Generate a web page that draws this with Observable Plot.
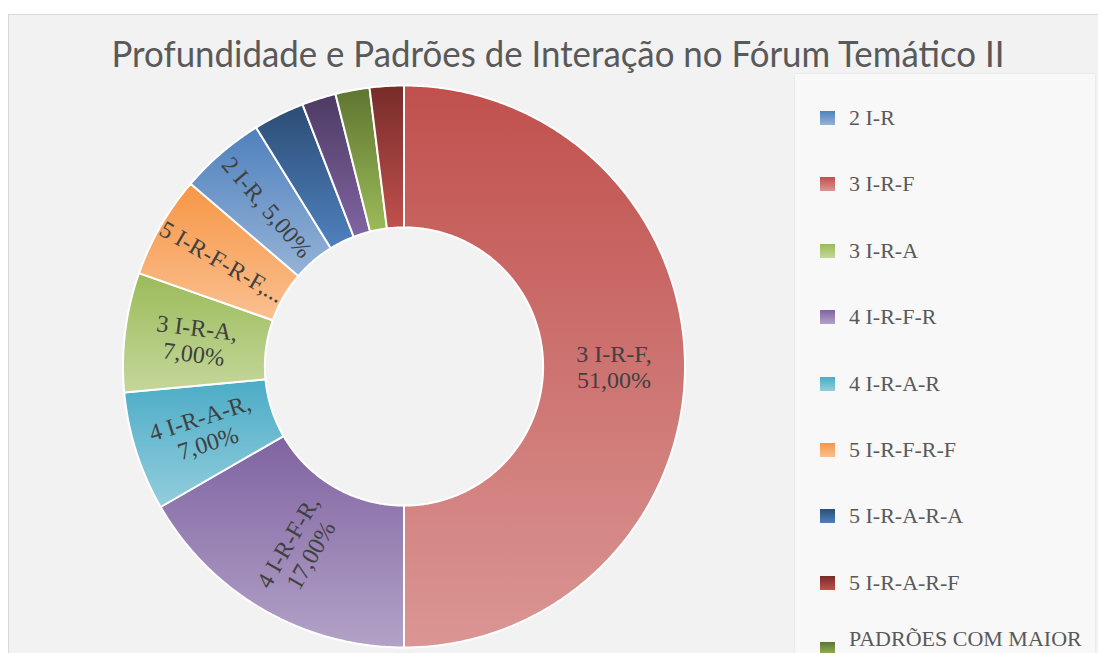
<!DOCTYPE html>
<html>
<head>
<meta charset="utf-8">
<script src="https://cdn.jsdelivr.net/npm/d3@7"></script>
<script src="https://cdn.jsdelivr.net/npm/@observablehq/plot@0.6"></script>
<style>
  html, body { margin: 0; padding: 0; width: 1098px; height: 653px; overflow: hidden; background: #ffffff; }
  #frame { position: absolute; left: 8px; top: 14px; width: 1090px; height: 639px; background: #F2F2F2;
           border-left: 1px solid #D9D9D9; border-top: 1px solid #D9D9D9; }
  #chart { position: absolute; left: 0; top: 0; }
  #title { position: absolute; left: 0; top: 0; }
  #legend { position: absolute; left: 795px; top: 74px; width: 300px; height: 579px; background: #F8F8F8;
            box-shadow: 0 0 2px rgba(0,0,0,0.10); overflow: hidden; }
  .item { position: absolute; left: 25px; display: flex; align-items: center; white-space: nowrap;
          font-family: "Liberation Serif", "DejaVu Serif", serif; font-size: 22px; color: #595959; line-height: 22px; }
  .sw { width: 15px; height: 14px; margin-right: 14px; flex: none; }
</style>
</head>
<body>
<div id="frame"></div>
<div id="chart"></div>
<svg id="title" width="1098" height="90">
  <text x="558" y="67" text-anchor="middle" font-family="Lato, 'Open Sans', sans-serif" font-weight="400"
        font-size="37" fill="#595959" textLength="893" lengthAdjust="spacingAndGlyphs">Profundidade e Padrões de Interação no Fórum Temático II</text>
</svg>
<div id="legend"></div>
<script>
// ---- data (slices in drawing order, clockwise from 12 o'clock) ----
const categories = ["3 I-R-F", "4 I-R-F-R", "4 I-R-A-R", "3 I-R-A", "5 I-R-F-R-F", "2 I-R",
                    "5 I-R-A-R-A", "OUTROS", "PADRÕES COM MAIOR", "5 I-R-A-R-F"];
const values = [51, 17, 7, 7, 6, 5, 3, 2, 2, 2];
const sliceLabels = ["3 I-R-F,\n51,00%", "4 I-R-F-R,\n17,00%", "4 I-R-A-R,\n7,00%", "3 I-R-A,\n7,00%",
                     "5 I-R-F-R-F,...", "2 I-R, 5,00%", "", "", "", ""];
const colorTop    = ["#C0504D", "#7F63A1", "#4BACC6", "#9BBB59", "#F79646", "#4F81BD", "#2C4D75", "#4D3B62", "#5F7530", "#772C2A"];
const colorBottom = ["#DA9694", "#B3A2C7", "#93CDDD", "#C4D79B", "#FAC090", "#95B3D7", "#4F81BD", "#8064A2", "#9BBB59", "#C0504D"];
// legend entries visible in the picture (the list is cut at the bottom edge)
const legendOrder = ["2 I-R", "3 I-R-F", "3 I-R-A", "4 I-R-F-R", "4 I-R-A-R", "5 I-R-F-R-F",
                     "5 I-R-A-R-A", "5 I-R-A-R-F", "PADRÕES COM MAIOR"];

// ---- geometry from data ----
const innerR = 0.495, outerR = 1;
const arcs = d3.pie().sort(null).startAngle(0).endAngle(2 * Math.PI)(values);
const points = [];
const labelRows = [];
arcs.forEach((a, i) => {
  const grad = `url(#grad${i})`;
  const n = Math.max(2, Math.ceil((a.endAngle - a.startAngle) / (Math.PI / 360)));
  const ring = [];
  for (let k = 0; k <= n; k++) {
    const t = a.startAngle + (a.endAngle - a.startAngle) * k / n;
    ring.push([outerR * Math.sin(t), outerR * Math.cos(t)]);
  }
  for (let k = n; k >= 0; k--) {
    const t = a.startAngle + (a.endAngle - a.startAngle) * k / n;
    ring.push([innerR * Math.sin(t), innerR * Math.cos(t)]);
  }
  ring.push(ring[0]);
  ring.forEach(([x, y]) => points.push({ slice: categories[i], x, y, grad }));
  const mid = (a.startAngle + a.endAngle) / 2;
  const rm = (innerR + outerR) / 2;
  let deg = mid * 180 / Math.PI - 270;
  while (deg <= -90) deg += 180;
  while (deg > 90) deg -= 180;
  if (sliceLabels[i]) labelRows.push({ x: rm * Math.sin(mid), y: rm * Math.cos(mid), text: sliceLabels[i], rot: deg });
});

const chart = Plot.plot({
  width: 1098,
  height: 653,
  margin: 0,
  style: { background: "transparent", overflow: "visible" },
  x: { domain: [-1, 1], range: [122.5, 684.5], axis: null },
  y: { domain: [-1, 1], range: [647, 85], axis: null },
  color: { type: "identity" },
  marks: [
    Plot.line(points, { x: "x", y: "y", z: "slice", fill: "grad", stroke: "#ffffff", strokeWidth: 2,
                        strokeLinejoin: "round", curve: "linear" }),
    Plot.text(labelRows, { x: "x", y: "y", text: "text", rotate: "rot", fontSize: 24, lineHeight: 1.1,
                           fontFamily: "Liberation Serif, DejaVu Serif, serif", fill: "#404040",
                           textAnchor: "middle", lineAnchor: "middle" })
  ]
});

// gradient definitions (style only)
const defs = d3.select(chart).insert("defs", ":first-child");
colorTop.forEach((c, i) => {
  const g = defs.append("linearGradient").attr("id", `grad${i}`).attr("x1", 0).attr("y1", 0).attr("x2", 0).attr("y2", 1);
  g.append("stop").attr("offset", "0%").attr("stop-color", c);
  g.append("stop").attr("offset", "100%").attr("stop-color", colorBottom[i]);
});
document.getElementById("chart").appendChild(chart);

// legend
const legend = document.getElementById("legend");
const legendTop = 74;
legendOrder.forEach((name, j) => {
  const i = categories.indexOf(name);
  const last = j === 8;
  const center = last ? 639 : 118 + 66.4 * j;
  const div = document.createElement("div");
  div.className = "item";
  div.style.top = (center - legendTop - 11) + "px";
  div.style.height = "22px";
  div.style.alignItems = last ? "flex-start" : "center";
  div.innerHTML = `<div class="sw" style="background:linear-gradient(${colorTop[i]}, ${colorBottom[i]});${last ? "margin-top:14px;" : ""}"></div><div>${name}</div>`;
  legend.appendChild(div);
});
</script>
</body>
</html>
